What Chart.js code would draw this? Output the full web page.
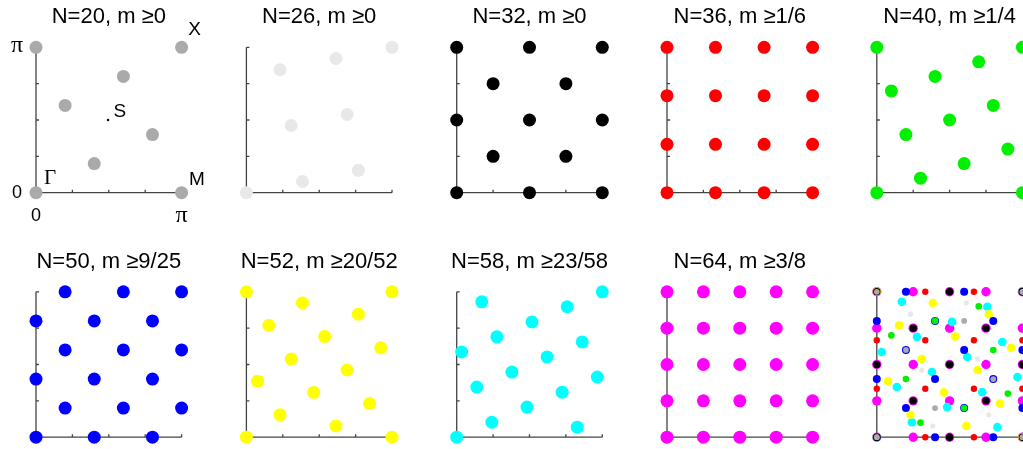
<!DOCTYPE html>
<html>
<head>
<meta charset="utf-8">
<script src="https://cdn.jsdelivr.net/npm/chart.js@4/dist/chart.umd.min.js"></script>
<style>
  html, body { margin: 0; padding: 0; background: #fff; overflow: hidden; }
  #wrap { position: relative; width: 1023px; height: 449px; overflow: hidden; }
  #wrap canvas { position: absolute; }
</style>
</head>
<body>
<div id="wrap"></div>
<script>
// k-points, in units of pi
const n20X = [0, 1, 1, 0, 0.2, 0.6, 0.4, 0.8];
const n20Y = [0, 0, 1, 1, 0.6, 0.8, 0.2, 0.4];

const n26X = [0, 0.231, 0.308, 0.385, 0.615, 0.692, 0.769, 1];
const n26Y = [0, 0.846, 0.462, 0.077, 0.923, 0.538, 0.154, 1];

const n32X = [0, 0.5, 1, 0, 0.5, 1, 0, 0.5, 1, 0.25, 0.75, 0.25, 0.75];
const n32Y = [0, 0, 0, 0.5, 0.5, 0.5, 1, 1, 1, 0.25, 0.25, 0.75, 0.75];

const n36X = [0, 0.333, 0.667, 1, 0, 0.333, 0.667, 1, 0, 0.333, 0.667, 1, 0, 0.333, 0.667, 1];
const n36Y = [0, 0, 0, 0, 0.333, 0.333, 0.333, 0.333, 0.667, 0.667, 0.667, 0.667, 1, 1, 1, 1];

const n40X = [0, 1, 0, 1, 0.1, 0.4, 0.7, 0.2, 0.5, 0.8, 0.3, 0.6, 0.9];
const n40Y = [0, 0, 1, 1, 0.7, 0.8, 0.9, 0.4, 0.5, 0.6, 0.1, 0.2, 0.3];

const n50X = [0, 0.4, 0.8, 0, 0.4, 0.8, 0, 0.4, 0.8, 0.2, 0.6, 1, 0.2, 0.6, 1, 0.2, 0.6, 1];
const n50Y = [0, 0, 0, 0.4, 0.4, 0.4, 0.8, 0.8, 0.8, 1, 1, 1, 0.6, 0.6, 0.6, 0.2, 0.2, 0.2];

const n52X = [0, 1, 0, 1, 0.385, 0.769, 0.154, 0.538, 0.923, 0.308, 0.692, 0.077, 0.462, 0.846, 0.231, 0.615];
const n52Y = [0, 0, 1, 1, 0.923, 0.846, 0.769, 0.692, 0.615, 0.538, 0.462, 0.385, 0.308, 0.231, 0.154, 0.077];

const n58X = [0, 1, 0.172, 0.759, 0.517, 0.276, 0.034, 0.862, 0.621, 0.379, 0.138, 0.966, 0.724, 0.483, 0.241, 0.828];
const n58Y = [0, 1, 0.931, 0.897, 0.793, 0.690, 0.586, 0.655, 0.552, 0.448, 0.345, 0.414, 0.310, 0.207, 0.103, 0.069];

const n64X = [0, 0.25, 0.5, 0.75, 1, 0, 0.25, 0.5, 0.75, 1, 0, 0.25, 0.5, 0.75, 1, 0, 0.25, 0.5, 0.75, 1, 0, 0.25, 0.5, 0.75, 1];
const n64Y = [0, 0, 0, 0, 0, 0.25, 0.25, 0.25, 0.25, 0.25, 0.5, 0.5, 0.5, 0.5, 0.5, 0.75, 0.75, 0.75, 0.75, 0.75, 1, 1, 1, 1, 1];

const setXs = [n20X, n26X, n32X, n36X, n40X, n50X, n52X, n58X, n64X];
const setYs = [n20Y, n26Y, n32Y, n36Y, n40Y, n50Y, n52Y, n58Y, n64Y];
const setColors = ['#aaaaaa', '#e8e8e8', '#000000', '#ff0000', '#00f000', '#0000ff', '#ffff00', '#00ffff', '#ff00ff'];
const overlayRadius = [2.9, 2.6, 3.7, 3.2, 3.3, 4, 4.3, 4.3, 4.7];

const titles = ['N=20, m \u22650', 'N=26, m \u22650', 'N=32, m \u22650', 'N=36, m \u22651/6', 'N=40, m \u22651/4',
                'N=50, m \u22659/25', 'N=52, m \u226520/52', 'N=58, m \u226523/58', 'N=64, m \u22653/8', ''];

// symmetry point S and labels of the first panel
const sDotX = [0.495];
const sDotY = [0.5];
const markText = ['\u0393', 'M', 'X', 'S'];
const markX = [0.096, 1.105, 1.09, 0.575];
const markY = [0.1, 0.09, 1.12, 0.56];
const axisTickText = ['0', '\u03c0'];

const colX = [36, 246.4, 456.7, 667, 876.8];
const rowTop = [47.3, 291.8];
const plotW = 145.6, plotH = 145.4;
const canW = 210, canH = 230;

const axesPlugin = {
  id: 'panelAxes',
  beforeDatasetsDraw(chart, args, o) {
    const { ctx, scales: { x, y } } = chart;
    const x0 = x.getPixelForValue(0), x1 = x.getPixelForValue(1);
    const y0 = y.getPixelForValue(0), y1 = y.getPixelForValue(1);
    ctx.save();
    ctx.strokeStyle = '#444';
    ctx.lineWidth = 1.3;
    ctx.beginPath();
    ctx.moveTo(x0, y1);
    ctx.lineTo(x0, y0);
    ctx.lineTo(x1, y0);
    [0.25, 0.5, 0.75, 1].forEach(v => {
      const px = x.getPixelForValue(v), py = y.getPixelForValue(v);
      ctx.moveTo(px, y0); ctx.lineTo(px, y0 - 3);
      ctx.moveTo(x0, py); ctx.lineTo(x0 + 3, py);
    });
    ctx.stroke();
    ctx.restore();
  },
  afterDraw(chart, args, o) {
    const { ctx, chartArea, scales: { x, y } } = chart;
    ctx.save();
    ctx.fillStyle = '#000';
    ctx.textAlign = 'center';
    ctx.textBaseline = 'middle';
    if (o.title) {
      ctx.font = '22px "Liberation Sans", Arial, sans-serif';
      ctx.fillText(o.title, (chartArea.left + chartArea.right) / 2, chartArea.top - 30);
    }
    if (o.labels) {
      // tick labels
      [0, 1].forEach((v, i) => {
        ctx.font = i ? '24px "Liberation Serif", serif' : '18px "Liberation Sans", Arial, sans-serif';
        ctx.fillText(axisTickText[i], x.getPixelForValue(0) - 19, y.getPixelForValue(v) - (i ? 2 : 0));
        ctx.fillText(axisTickText[i], x.getPixelForValue(v), y.getPixelForValue(0) + 23);
      });
      markText.forEach((t, i) => {
        ctx.font = i === 0 ? '21px "Liberation Serif", serif' : '19px "Liberation Sans", Arial, sans-serif';
        ctx.fillText(t, x.getPixelForValue(markX[i]), y.getPixelForValue(markY[i]));
      });
    }
    ctx.restore();
  }
};

function makeDatasets(idx, overlay) {
  return idx.map(i => ({
    data: setXs[i].map((v, j) => ({ x: v, y: setYs[i][j] })),
    backgroundColor: setColors[i],
    borderWidth: 0,
    pointRadius: overlay ? overlayRadius[i] : 6.5,
    pointBorderWidth: 0,
    clip: false
  }));
}

const wrap = document.getElementById('wrap');
for (let p = 0; p < 10; p++) {
  const col = p % 5, row = Math.floor(p / 5);
  const left = Math.floor(colX[col] - 36);
  const top = Math.floor(rowTop[row] - 47.3);
  const cv = document.createElement('canvas');
  cv.width = canW; cv.height = canH;
  cv.style.left = left + 'px';
  cv.style.top = top + 'px';
  cv.style.width = canW + 'px';
  cv.style.height = canH + 'px';
  wrap.appendChild(cv);

  const padL = colX[col] - left, padT = rowTop[row] - top;
  let datasets;
  if (p < 9) {
    datasets = makeDatasets([p], false);
  } else {
    datasets = makeDatasets([0, 1, 2, 3, 4, 5, 6, 7, 8], true);
  }
  if (p === 0) {
    datasets.push({
      data: sDotX.map((v, j) => ({ x: v, y: sDotY[j] })),
      backgroundColor: '#000', pointRadius: 1.2, pointBorderWidth: 0, clip: false
    });
  }

  new Chart(cv, {
    type: 'scatter',
    data: { datasets },
    options: {
      responsive: false,
      animation: false,
      events: [],
      layout: { padding: { left: padL, top: padT, right: canW - padL - plotW, bottom: canH - padT - plotH } },
      scales: {
        x: { type: 'linear', min: 0, max: 1, display: false },
        y: { type: 'linear', min: 0, max: 1, display: false }
      },
      plugins: {
        legend: { display: false },
        tooltip: { enabled: false },
        panelAxes: { title: titles[p], labels: p === 0 }
      }
    },
    plugins: [axesPlugin]
  });
}
</script>
</body>
</html>
